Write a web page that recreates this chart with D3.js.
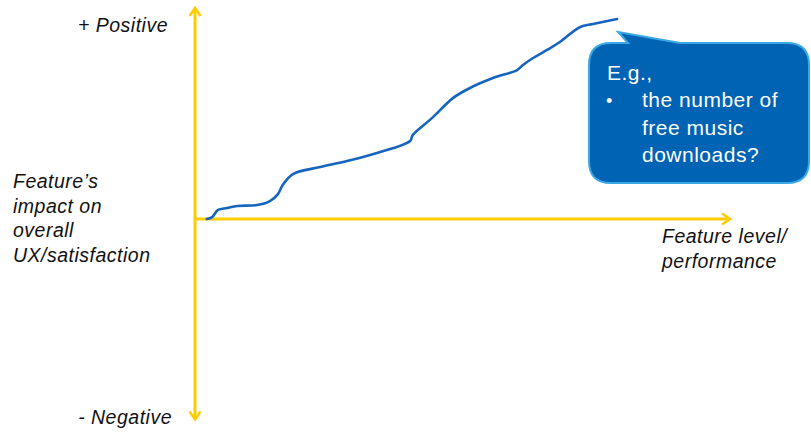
<!DOCTYPE html>
<html>
<head>
<meta charset="utf-8">
<script src="https://cdn.jsdelivr.net/npm/d3@7"></script>
<style>
  html, body { margin: 0; padding: 0; background: #fff; }
  svg { display: block; }
  text { font-family: "Liberation Sans", Arial, sans-serif; }
</style>
</head>
<body>
<div id="chart"></div>
<script>
// feature level (x) vs impact on UX (y)
const featureLevel = [2.2, 3.2, 4.3, 6.0, 7.9, 11.6, 14.0, 15.5, 16.4, 18.3, 23.4, 28.4, 34.0, 40.2, 40.7,
  44.5, 48.2, 51.4, 55.7, 60.2, 61.3, 63.2, 65.8, 68.2, 72.0, 74.4, 78.9];
const impact = [0, 0.9, 4.3, 5.2, 6.2, 6.6, 8.5, 11.8, 16.1, 21.3, 24.6, 27.5, 31.3, 37.0, 39.8,
  48.3, 57.3, 62.1, 66.8, 70.6, 73.0, 76.3, 80.1, 83.9, 91.0, 92.4, 94.8];

const yLabels = ["+ Positive", "- Negative"];
const yTitle = ["Feature\u2019s", "impact on", "overall", "UX/satisfaction"];
const xTitle = ["Feature level/", "performance"];
const calloutLines = ["E.g.,", "the number of", "free music", "downloads?"];

const width = 811, height = 435;
const yellow = "#FFCC00", blue = "#1565C0";

const svg = d3.select("#chart").append("svg")
  .attr("width", width)
  .attr("height", height);

// scales: x 0..100 along horizontal axis, y 0 at horizontal axis
const x = d3.scaleLinear().domain([0, 100]).range([195, 730]);
const y = d3.scaleLinear().domain([0, 100]).range([219, 8]);

// arrow head (open chevron)
svg.append("defs").append("marker")
  .attr("id", "arrow")
  .attr("viewBox", "0 0 12 12")
  .attr("refX", 10).attr("refY", 6)
  .attr("markerWidth", 12).attr("markerHeight", 12)
  .attr("markerUnits", "userSpaceOnUse")
  .attr("orient", "auto")
  .append("path")
  .attr("d", "M2,0.5 L10,6 L2,11.5")
  .attr("fill", "none")
  .attr("stroke", yellow)
  .attr("stroke-width", 2.5);

// vertical axis (both directions)
svg.append("line")
  .attr("x1", x(0)).attr("x2", x(0))
  .attr("y1", y(0)).attr("y2", y(100))
  .attr("stroke", yellow).attr("stroke-width", 3)
  .attr("marker-end", "url(#arrow)");
svg.append("line")
  .attr("x1", x(0)).attr("x2", x(0))
  .attr("y1", y(0)).attr("y2", y(-95))
  .attr("stroke", yellow).attr("stroke-width", 3)
  .attr("marker-end", "url(#arrow)");

// horizontal axis
svg.append("line")
  .attr("x1", x(0)).attr("x2", x(100))
  .attr("y1", y(0)).attr("y2", y(0))
  .attr("stroke", yellow).attr("stroke-width", 3)
  .attr("marker-end", "url(#arrow)");

// curve
const pts = featureLevel.map((v, i) => [v, impact[i]]);
const line = d3.line()
  .x(d => x(d[0]))
  .y(d => y(d[1]))
  .curve(d3.curveCatmullRom.alpha(0.5));

svg.append("path")
  .datum(pts)
  .attr("d", line)
  .attr("fill", "none")
  .attr("stroke", blue)
  .attr("stroke-width", 2.6)
  .attr("stroke-linecap", "round");

// axis end labels
svg.append("text")
  .attr("x", 168).attr("y", 32)
  .attr("text-anchor", "end")
  .attr("font-size", "19.5px")
  .attr("font-style", "italic")
  .attr("letter-spacing", "0.5px")
  .attr("fill", "#111")
  .text(yLabels[0]);
svg.append("text")
  .attr("x", 172).attr("y", 424)
  .attr("text-anchor", "end")
  .attr("font-size", "19.5px")
  .attr("font-style", "italic")
  .attr("letter-spacing", "0.5px")
  .attr("fill", "#111")
  .text(yLabels[1]);

// y title
svg.append("g").selectAll("text")
  .data(yTitle)
  .enter().append("text")
  .attr("x", 13)
  .attr("y", (d, i) => 188 + i * 24.7)
  .attr("font-size", "19.5px")
  .attr("font-style", "italic")
  .attr("letter-spacing", "0.5px")
  .attr("fill", "#111")
  .text(d => d);

// x title
svg.append("g").selectAll("text")
  .data(xTitle)
  .enter().append("text")
  .attr("x", 662)
  .attr("y", (d, i) => 243 + i * 25)
  .attr("font-size", "19.5px")
  .attr("font-style", "italic")
  .attr("letter-spacing", "0.5px")
  .attr("fill", "#111")
  .text(d => d);

// callout bubble
const bx0 = 589, by0 = 43, bx1 = 809, by1 = 183, r = 22;
const tip = [x(78.9) + 1, 32];
const bubble = d3.path();
bubble.moveTo(bx0 + r, by0);
bubble.lineTo(628, by0);
bubble.lineTo(tip[0], tip[1]);
bubble.lineTo(680, by0);
bubble.lineTo(bx1 - r, by0);
bubble.quadraticCurveTo(bx1, by0, bx1, by0 + r);
bubble.lineTo(bx1, by1 - r);
bubble.quadraticCurveTo(bx1, by1, bx1 - r, by1);
bubble.lineTo(bx0 + r, by1);
bubble.quadraticCurveTo(bx0, by1, bx0, by1 - r);
bubble.lineTo(bx0, by0 + r);
bubble.quadraticCurveTo(bx0, by0, bx0 + r, by0);
bubble.closePath();

svg.append("path")
  .attr("d", bubble.toString())
  .attr("fill", "#0063B4")
  .attr("stroke", "#3AA8E4")
  .attr("stroke-width", 2);

const ct = svg.append("g");
calloutLines.forEach((t, i) => {
  ct.append("text")
    .attr("x", i === 0 ? 607 : 642)
    .attr("y", 80 + i * 27.3)
    .attr("font-size", "21px")
    .attr("letter-spacing", "0.5px")
    .attr("fill", "#fff")
    .text(t);
});
ct.append("text")
  .attr("x", 606)
  .attr("y", 107)
  .attr("font-size", "18px")
  .attr("fill", "#fff")
  .text("\u2022");
</script>
</body>
</html>
